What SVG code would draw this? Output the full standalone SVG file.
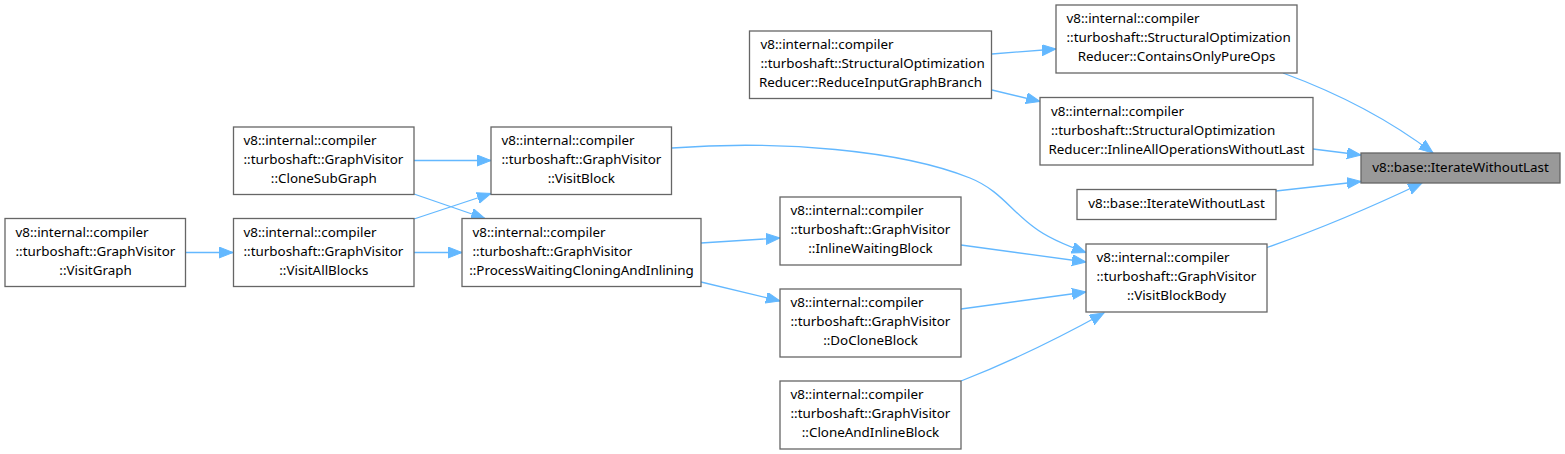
<svg xmlns="http://www.w3.org/2000/svg" width="1565" height="454" viewBox="0 0 1565 454">
<defs>
<style>
.node rect{fill:#ffffff;stroke:#666666;stroke-width:1.3}
.node.target rect{fill:#999999}
text{font-family:"Noto Sans","Open Sans","DejaVu Sans",sans-serif;font-size:13.4px;fill:#000000}
.c{text-anchor:middle}
.edges path{fill:none;stroke:#63b8ff;stroke-width:1.3}
</style>
<marker id="arr" markerUnits="userSpaceOnUse" markerWidth="15" markerHeight="12" refX="14" refY="5.5" orient="auto">
<path d="M0,0 L14,5.5 L0,11 Z" fill="#63b8ff" stroke="#63b8ff" stroke-width="1"/>
</marker>
</defs>
<rect width="1565" height="454" fill="#ffffff"/>

<g class="edges">
<path d="M186,252.5 L233,252.5" marker-end="url(#arr)"/>
<path d="M414,160.5 L491,160.5" marker-end="url(#arr)"/>
<path d="M414,194 L485,218.5" marker-end="url(#arr)"/>
<path d="M414,219 L491,193.5" marker-end="url(#arr)"/>
<path d="M414,252.5 L462,252.5" marker-end="url(#arr)"/>
<path d="M672,148 C780,140 900,150 970,178 C1000,190 1012,212 1035,228 C1048,238 1065,245 1086,252.5" marker-end="url(#arr)"/>
<path d="M701,243 L780,238" marker-end="url(#arr)"/>
<path d="M701,282 L780,301" marker-end="url(#arr)"/>
<path d="M992,54 L1056,49" marker-end="url(#arr)"/>
<path d="M992,90 L1040,101.5" marker-end="url(#arr)"/>
<path d="M961,245 L1086,262" marker-end="url(#arr)"/>
<path d="M961,309 L1086,292" marker-end="url(#arr)"/>
<path d="M961,381 Q1030,354 1104,313" marker-end="url(#arr)"/>
<path d="M1283,73 Q1370,105 1433,153" marker-end="url(#arr)"/>
<path d="M1313,149 L1361,155" marker-end="url(#arr)"/>
<path d="M1276,191 L1361,181.5" marker-end="url(#arr)"/>
<path d="M1267,247.5 Q1340,222 1422,183" marker-end="url(#arr)"/>
</g>

<g id="node-visitgraph" class="node">
<rect x="5" y="218.5" width="180.5" height="68"/>
<text x="15.5" y="236.5">v8::internal::compiler</text>
<text x="15.5" y="255.5">::turboshaft::GraphVisitor</text>
<text class="c" x="95.5" y="274.5">::VisitGraph</text>
</g>

<g id="node-clonesubgraph" class="node">
<rect x="233.5" y="127" width="180.5" height="67.5"/>
<text x="243.5" y="145">v8::internal::compiler</text>
<text x="243.5" y="164">::turboshaft::GraphVisitor</text>
<text class="c" x="323.8" y="183">::CloneSubGraph</text>
</g>

<g id="node-visitallblocks" class="node">
<rect x="233.5" y="218.5" width="180.5" height="68"/>
<text x="243.5" y="236.5">v8::internal::compiler</text>
<text x="243.5" y="255.5">::turboshaft::GraphVisitor</text>
<text class="c" x="323.8" y="274.5">::VisitAllBlocks</text>
</g>

<g id="node-visitblock" class="node">
<rect x="491" y="127" width="180.5" height="67.5"/>
<text x="501.5" y="145">v8::internal::compiler</text>
<text x="501.5" y="164">::turboshaft::GraphVisitor</text>
<text class="c" x="581.3" y="183">::VisitBlock</text>
</g>

<g id="node-processwaiting" class="node">
<rect x="462" y="218.5" width="239" height="68"/>
<text x="472.5" y="236.5">v8::internal::compiler</text>
<text x="472.5" y="255.5">::turboshaft::GraphVisitor</text>
<text class="c" x="581.5" y="274.5">::ProcessWaitingCloningAndInlining</text>
</g>

<g id="node-inlinewaitingblock" class="node">
<rect x="780" y="197" width="181" height="68"/>
<text x="790.5" y="215">v8::internal::compiler</text>
<text x="790.5" y="234">::turboshaft::GraphVisitor</text>
<text class="c" x="870.5" y="253">::InlineWaitingBlock</text>
</g>

<g id="node-doclone" class="node">
<rect x="780" y="289" width="181" height="68"/>
<text x="790.5" y="307">v8::internal::compiler</text>
<text x="790.5" y="326">::turboshaft::GraphVisitor</text>
<text class="c" x="870.5" y="345">::DoCloneBlock</text>
</g>

<g id="node-cloneandinline" class="node">
<rect x="780" y="381" width="181" height="68"/>
<text x="790.5" y="399">v8::internal::compiler</text>
<text x="790.5" y="418">::turboshaft::GraphVisitor</text>
<text class="c" x="870.5" y="437">::CloneAndInlineBlock</text>
</g>

<g id="node-reduceinputgraphbranch" class="node">
<rect x="749.5" y="31" width="242" height="67.5"/>
<text x="760.5" y="49">v8::internal::compiler</text>
<text x="760.5" y="68">::turboshaft::StructuralOptimization</text>
<text class="c" x="870.5" y="87">Reducer::ReduceInputGraphBranch</text>
</g>

<g id="node-containsonlypureops" class="node">
<rect x="1056" y="5" width="241" height="68"/>
<text x="1066.5" y="23">v8::internal::compiler</text>
<text x="1066.5" y="42">::turboshaft::StructuralOptimization</text>
<text class="c" x="1176.5" y="61">Reducer::ContainsOnlyPureOps</text>
</g>

<g id="node-inlineallops" class="node">
<rect x="1040" y="97.5" width="273" height="67.5"/>
<text x="1051" y="115.5">v8::internal::compiler</text>
<text x="1051" y="134.5">::turboshaft::StructuralOptimization</text>
<text class="c" x="1176.5" y="153.5">Reducer::InlineAllOperationsWithoutLast</text>
</g>

<g id="node-visitblockbody" class="node">
<rect x="1086" y="244" width="181" height="68"/>
<text x="1096.5" y="262">v8::internal::compiler</text>
<text x="1096.5" y="281">::turboshaft::GraphVisitor</text>
<text class="c" x="1176.5" y="300">::VisitBlockBody</text>
</g>

<g id="node-iteratewithoutlast2" class="node">
<rect x="1077" y="189.5" width="199" height="30"/>
<text class="c" x="1176.5" y="208">v8::base::IterateWithoutLast</text>
</g>

<g id="node-iteratewithoutlast" class="node target">
<rect x="1361" y="153" width="199" height="30"/>
<text class="c" x="1460.5" y="172">v8::base::IterateWithoutLast</text>
</g>
</svg>
